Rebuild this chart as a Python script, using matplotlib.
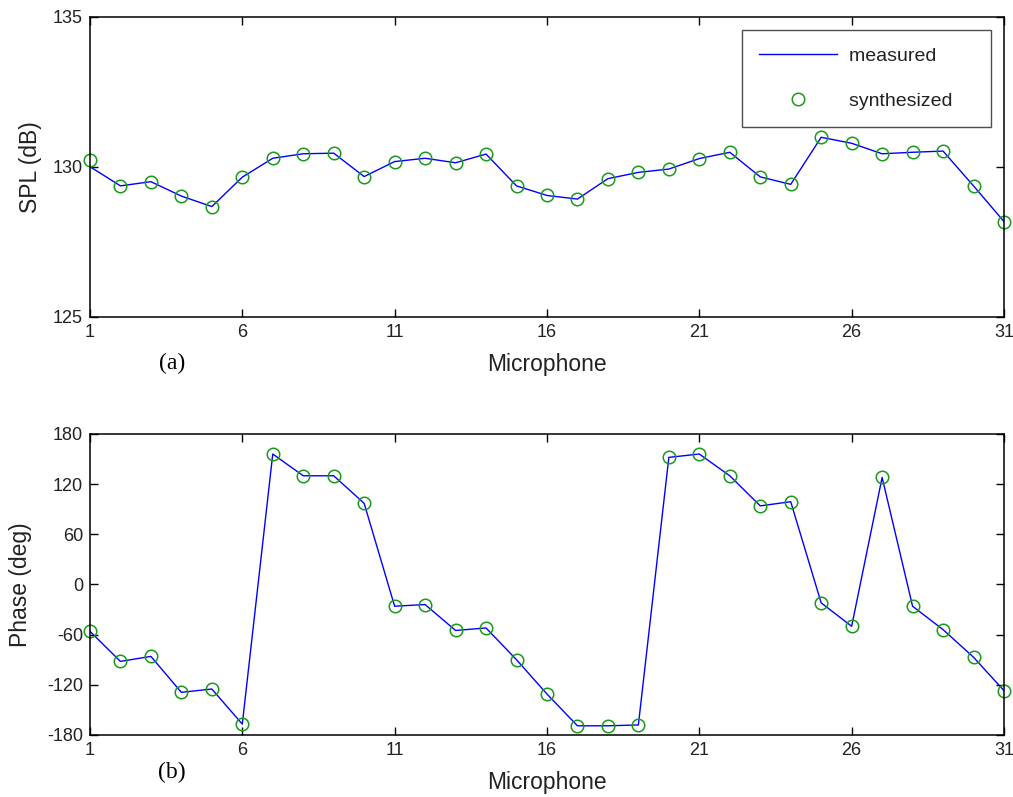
import matplotlib.pyplot as plt

mics = list(range(1, 32))

spl_synth = [130.23, 129.37, 129.51, 129.03, 128.68, 129.66, 130.29, 130.44, 130.46, 129.68,
             130.18, 130.29, 130.14, 130.43, 129.37, 129.05, 128.93, 129.61, 129.82, 129.93,
             130.28, 130.49, 129.67, 129.42, 130.99, 130.79, 130.44, 130.49, 130.53, 129.37,
             128.18]
spl_meas = [130.01] + spl_synth[1:]

phase_synth = [-56, -92, -86, -129, -125, -167, 156, 130, 130, 97,
               -26, -24, -55, -52, -90, -131, -169, -169, -168, 152,
               156, 130, 94, 99, -22, -50, 128, -26, -54, -87,
               -127]
phase_meas = phase_synth

xticks = [1, 6, 11, 16, 21, 26, 31]

plt.rcParams['font.family'] = ['Liberation Sans', 'DejaVu Sans']
plt.rcParams['axes.unicode_minus'] = False
txt = '#222222'

fig = plt.figure(figsize=(10.13, 7.97), dpi=100)
ax1 = fig.add_axes([0.0888, 0.6023, 0.9023, 0.3764])
ax2 = fig.add_axes([0.0888, 0.0778, 0.9023, 0.3777])


def style(ax):
    ax.set_xlim(1, 31)
    ax.set_xticks(xticks)
    ax.tick_params(direction='in', length=6, width=1, top=True, right=True,
                   labelsize=13, labelcolor=txt, pad=5)
    for s in ax.spines.values():
        s.set_linewidth(1.1)
    ax.set_xlabel('Microphone', fontsize=16.5, color=txt, labelpad=9)


ax1.plot(mics, spl_meas, color='blue', lw=1, label='measured    ')
ax1.plot(mics, spl_synth, 'o', ms=9, mfc='none', mec='#1a9a1a', mew=1.1,
         label='synthesized    ', clip_on=False)
ax1.set_ylim(125, 135)
ax1.set_yticks([125, 130, 135])
ax1.set_ylabel('SPL (dB)', fontsize=16.5, color=txt, labelpad=8)
style(ax1)
leg = ax1.legend(loc='upper right', bbox_to_anchor=(0.986, 0.957), fontsize=14,
                 frameon=True, fancybox=False, edgecolor='#222', handlelength=4,
                 borderpad=0.9, labelspacing=1.4, handletextpad=0.6, borderaxespad=0)
leg.get_frame().set_linewidth(1)
for t in leg.get_texts():
    t.set_color(txt)

ax2.plot(mics, phase_meas, color='blue', lw=1)
ax2.plot(mics, phase_synth, 'o', ms=9, mfc='none', mec='#1a9a1a', mew=1.1, clip_on=False)
ax2.set_ylim(-180, 180)
ax2.set_yticks([-180, -120, -60, 0, 60, 120, 180])
ax2.set_ylabel('Phase (deg)', fontsize=16.5, color=txt, labelpad=11)
style(ax2)

fig.text(172 / 1013, 1 - 363 / 797, '(a)', fontsize=17, family='Liberation Serif',
         ha='center', va='center')
fig.text(172 / 1013, 1 - 772 / 797, '(b)', fontsize=17, family='Liberation Serif',
         ha='center', va='center')

fig.savefig('out.png', dpi=100)
